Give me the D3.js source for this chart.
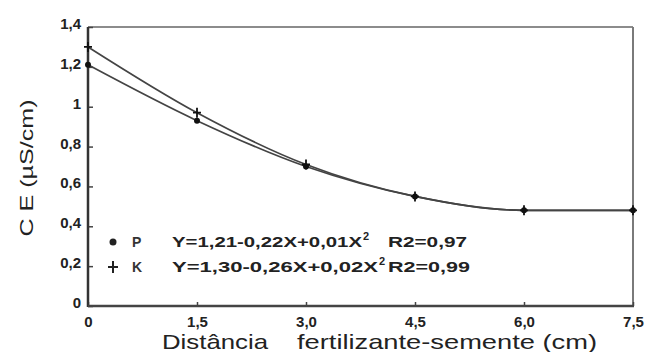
<!DOCTYPE html>
<html>
<head>
<meta charset="utf-8">
<script src="https://cdn.jsdelivr.net/npm/d3@7"></script>
<style>
  body { margin: 0; background: #fff; }
  svg { display: block; font-family: "Liberation Sans", Arial, sans-serif; }
</style>
</head>
<body>
<div id="chart"></div>
<script>
const distances = [0, 1.5, 3.0, 4.5, 6.0, 7.5];
const pValues = [1.21, 0.93, 0.70, 0.55, 0.48, 0.48];
const kValues = [1.30, 0.97, 0.71, 0.55, 0.48, 0.48];
const xTicks = [0, 1.5, 3.0, 4.5, 6.0, 7.5];
const xTickLabels = ["0", "1,5", "3,0", "4,5", "6,0", "7,5"];
const yTicks = [0, 0.2, 0.4, 0.6, 0.8, 1.0, 1.2, 1.4];
const yTickLabels = ["0", "0,2", "0,4", "0,6", "0,8", "1", "1,2", "1,4"];
const legendRows = [
    { symbol: "dot", name: "P", eq: "Y=1,21-0,22X+0,01X", r2: "R2=0,97" },
    { symbol: "plus", name: "K", eq: "Y=1,30-0,26X+0,02X", r2: "R2=0,99" }
];

const width = 648, height = 352;
const margin = { top: 27, right: 15, bottom: 46, left: 88 };

const svg = d3.select("#chart")
    .append("svg")
    .attr("width", width)
    .attr("height", height);

const x = d3.scaleLinear()
    .domain([0, 7.5])
    .range([margin.left, width - margin.right]);
const y = d3.scaleLinear()
    .domain([0, 1.4])
    .range([height - margin.bottom, margin.top]);

// frame: top and right lighter, left and bottom dark
svg.append("line")
    .attr("x1", x(0)).attr("x2", x(7.5))
    .attr("y1", y(1.4)).attr("y2", y(1.4))
    .attr("stroke", "#8c8c8c").attr("stroke-width", 2);
svg.append("line")
    .attr("x1", x(7.5)).attr("x2", x(7.5))
    .attr("y1", y(1.4)).attr("y2", y(0))
    .attr("stroke", "#7a7a7a").attr("stroke-width", 2);

const yAxis = d3.axisLeft(y)
    .tickValues(yTicks)
    .tickFormat((d, i) => yTickLabels[i])
    .tickSizeInner(-5)
    .tickSizeOuter(0)
    .tickPadding(7);
const gy = svg.append("g")
    .attr("transform", `translate(${x(0)},0)`)
    .call(yAxis);
gy.select(".domain").remove();
gy.selectAll(".tick line").attr("stroke", "#444").attr("stroke-width", 1.5);
gy.selectAll(".tick text")
    .attr("dy", "0.1em")
    .style("font-size", "15px")
    .style("font-weight", "bold")
    .attr("fill", "#222");

const xAxis = d3.axisBottom(x)
    .tickValues(xTicks)
    .tickFormat((d, i) => xTickLabels[i])
    .tickSizeInner(-4)
    .tickSizeOuter(0)
    .tickPadding(10);
const gx = svg.append("g")
    .attr("transform", `translate(0,${y(0)})`)
    .call(xAxis);
gx.select(".domain").remove();
gx.selectAll(".tick line").attr("stroke", "#444").attr("stroke-width", 1.5);
gx.selectAll(".tick text")
    .style("font-size", "15px")
    .style("font-weight", "bold")
    .attr("fill", "#222");

svg.append("line")
    .attr("x1", x(0)).attr("x2", x(0))
    .attr("y1", y(1.4)).attr("y2", y(0) + 1)
    .attr("stroke", "#333").attr("stroke-width", 2.5);
svg.append("line")
    .attr("x1", x(0)).attr("x2", x(7.5) + 1)
    .attr("y1", y(0)).attr("y2", y(0))
    .attr("stroke", "#444").attr("stroke-width", 2.5);

// curves
const line = d3.line()
    .x(d => x(d[0]))
    .y(d => y(d[1]))
    .curve(d3.curveMonotoneX);
const pData = distances.map((d, i) => [d, pValues[i]]);
const kData = distances.map((d, i) => [d, kValues[i]]);

[pData, kData].forEach(data => {
    svg.append("path")
        .datum(data)
        .attr("d", line)
        .attr("fill", "none")
        .attr("stroke", "#444")
        .attr("stroke-width", 1.7);
});

svg.append("g").selectAll("circle")
    .data(pData)
    .enter().append("circle")
    .attr("cx", d => x(d[0]))
    .attr("cy", d => y(d[1]))
    .attr("r", 3)
    .attr("fill", "#111");

svg.append("g").selectAll("path")
    .data(kData)
    .enter().append("path")
    .attr("transform", d => `translate(${x(d[0])},${y(d[1])})`)
    .attr("d", "M-4,0H4M0,-5V5")
    .attr("stroke", "#111")
    .attr("stroke-width", 1.8);

// legend
const legendX = 113;
const legendY = [242, 267];
const eqLengths = [190, 206];
legendRows.forEach((row, i) => {
    const g = svg.append("g").attr("transform", `translate(${legendX},${legendY[i]})`);
    if (row.symbol === "dot") {
        g.append("circle").attr("r", 3.5).attr("fill", "#222");
    } else {
        g.append("path").attr("d", "M-5,0H5M0,-6V6")
            .attr("stroke", "#222").attr("stroke-width", 2);
    }
    g.append("text")
        .attr("x", 19).attr("dy", "0.36em")
        .style("font-size", "14px").style("font-weight", "bold")
        .attr("fill", "#333")
        .text(row.name);
    g.append("text")
        .attr("x", 59).attr("dy", "0.36em")
        .attr("textLength", eqLengths[i])
        .attr("lengthAdjust", "spacingAndGlyphs")
        .style("font-size", "15px").style("font-weight", "bold")
        .attr("fill", "#222")
        .text(row.eq);
    g.append("text")
        .attr("x", 59 + eqLengths[i] + 1).attr("y", -6)
        .attr("dy", "0.36em")
        .style("font-size", "11px").style("font-weight", "bold")
        .attr("fill", "#222")
        .text("2");
    g.append("text")
        .attr("x", 275).attr("dy", "0.36em")
        .attr("textLength", i === 0 ? 79 : 82)
        .attr("lengthAdjust", "spacingAndGlyphs")
        .style("font-size", "15px").style("font-weight", "bold")
        .attr("fill", "#222")
        .text(row.r2);
});

// axis titles
svg.append("text")
    .attr("x", 162).attr("y", 349)
    .attr("textLength", 106)
    .attr("lengthAdjust", "spacingAndGlyphs")
    .style("font-size", "21px")
    .attr("fill", "#222")
    .text("Distância");
svg.append("text")
    .attr("x", 297).attr("y", 349)
    .attr("textLength", 300)
    .attr("lengthAdjust", "spacingAndGlyphs")
    .style("font-size", "21px")
    .attr("fill", "#222")
    .text("fertilizante-semente (cm)");

svg.append("text")
    .attr("transform", "translate(33,168) rotate(-90)")
    .attr("text-anchor", "middle")
    .attr("textLength", 137)
    .attr("lengthAdjust", "spacingAndGlyphs")
    .style("font-size", "19px")
    .attr("fill", "#222")
    .text("C E (µS/cm)");
</script>
</body>
</html>
